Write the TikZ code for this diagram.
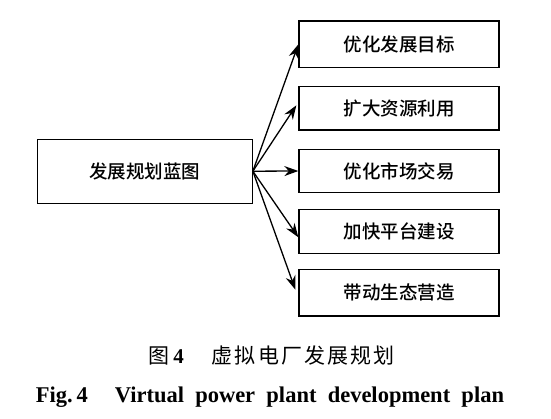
\documentclass[tikz,border=0pt]{standalone}
\usepackage{fontspec}
\setmainfont{Liberation Serif}
\newfontfamily\hei{Noto Sans CJK SC}[BoldFont={Noto Sans CJK SC Medium}]
\usetikzlibrary{arrows.meta,positioning}

\tikzset{
  plan/.style={draw,line width=1.3pt,minimum width=200pt,inner sep=0pt,font=\hei\bfseries\fontsize{18.5}{21}\selectfont},
  goal/.style={-{Stealth[length=14pt,width=10pt]},line width=1.3pt}
}

\begin{document}
\begin{tikzpicture}[x=1pt,y=-1pt]
\useasboundingbox[fill=white] (0,0) rectangle (551,418);
\node[plan,minimum width=215pt,minimum height=64pt] (blue) at (144.7,171.2) {发展规划蓝图};
\node[plan,minimum height=46.7pt] (g1) at (399,44.3) {优化发展目标};
\node[plan,minimum height=43.5pt] (g2) at (399,108.3) {扩大资源利用};
\node[plan,minimum height=43.2pt] (g3) at (399,171) {优化市场交易};
\node[plan,minimum height=44pt] (g4) at (399,231.3) {加快平台建设};
\node[plan,minimum height=46.7pt] (g5) at (399,292.7) {带动生态营造};
\draw[goal] (blue.east) -- (g1.west);
\draw[goal] (blue.east) -- ([xshift=-2pt,yshift=3pt]g2.west);
\draw[goal] (blue.east) -- (g3.west);
\draw[goal] (blue.east) -- ([yshift=-6pt]g4.west);
\draw[goal] (blue.east) -- ([xshift=-3pt,yshift=3pt]g5.west);
% caption
\node[font=\fontsize{21}{24}\selectfont] (cap) at (271.5,356) {{\hei 图}\hspace{4pt}\textbf{4}\hspace{28pt}{\hei\addfontfeatures{LetterSpace=10}虚拟电厂发展规划}};
\node[font=\bfseries\fontsize{22.5}{26}\selectfont] (fig) at (270,397) {Fig.\,4\hspace{1.2em}Virtual\ \ power\ \ plant\ \ development\ \ plan};
\end{tikzpicture}
\end{document}
